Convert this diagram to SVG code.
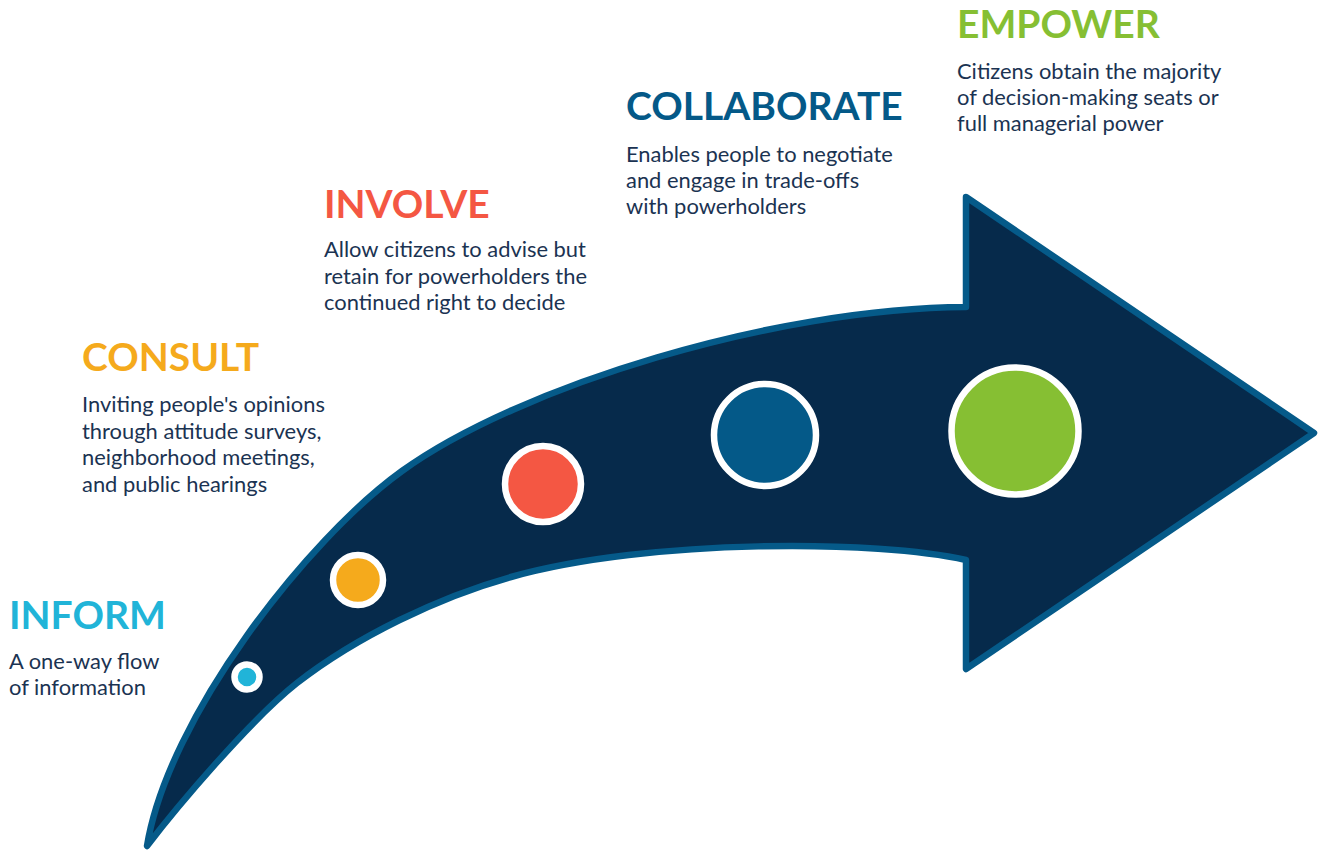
<svg xmlns="http://www.w3.org/2000/svg" width="1321" height="852" viewBox="0 0 1321 852">
  <style>
    .title { font-family: Lato, "Open Sans", sans-serif; font-weight: 700; font-size: 39px; }
    .body { font-family: Lato, "Open Sans", sans-serif; font-size: 21.9px; fill: #1b3352; }
    .dot { stroke: #ffffff; stroke-width: 6.5; }
  </style>
  <rect width="1321" height="852" fill="#ffffff"/>

  <!-- curved arrow -->
  <g id="arrow">
    <path d="M 147 846
             C 168 718, 306 540, 402 471
             C 520 386, 775 308, 966 307
             L 966 197 L 1314 433 L 966 669 L 966 560
             C 880 540, 650 538, 511 577
             C 439 597, 356 637, 297 683
             C 250 720, 176 808, 147 846 Z"
          fill="#062a4b" stroke="#055a89" stroke-width="6.5" stroke-linejoin="round"/>
  </g>

  <!-- stage markers -->
  <g id="markers">
    <circle id="dot-inform" class="dot" cx="247" cy="677" r="12.5" fill="#21b4d8"/>
    <circle id="dot-consult" class="dot" cx="358" cy="580" r="25" fill="#f5aa1c"/>
    <circle id="dot-involve" class="dot" cx="543" cy="484" r="38" fill="#f45743"/>
    <circle id="dot-collaborate" class="dot" cx="765" cy="435" r="51" fill="#045988"/>
    <circle id="dot-empower" class="dot" cx="1015" cy="431" r="63.5" fill="#86bf33"/>
  </g>

  <g id="inform">
    <text class="title" x="9" y="629" fill="#21b4d8">INFORM</text>
    <text class="body" x="9" y="669">A one-way flow</text>
    <text class="body" x="9" y="695">of information</text>
  </g>

  <g id="consult">
    <text class="title" x="82" y="371" fill="#f5aa1c">CONSULT</text>
    <text class="body" x="82" y="412">Inviting people's opinions</text>
    <text class="body" x="82" y="439">through attitude surveys,</text>
    <text class="body" x="82" y="465">neighborhood meetings,</text>
    <text class="body" x="82" y="492">and public hearings</text>
  </g>

  <g id="involve">
    <text class="title" x="324" y="218" fill="#f45743">INVOLVE</text>
    <text class="body" x="324" y="257">Allow citizens to advise but</text>
    <text class="body" x="324" y="284">retain for powerholders the</text>
    <text class="body" x="324" y="310">continued right to decide</text>
  </g>

  <g id="collaborate">
    <text class="title" x="626" y="120" fill="#045988">COLLABORATE</text>
    <text class="body" x="626" y="162">Enables people to negotiate</text>
    <text class="body" x="626" y="188">and engage in trade-offs</text>
    <text class="body" x="626" y="214">with powerholders</text>
  </g>

  <g id="empower">
    <text class="title" x="957" y="38" fill="#86bf33">EMPOWER</text>
    <text class="body" x="957" y="79">Citizens obtain the majority</text>
    <text class="body" x="957" y="105">of decision-making seats or</text>
    <text class="body" x="957" y="131">full managerial power</text>
  </g>
</svg>
